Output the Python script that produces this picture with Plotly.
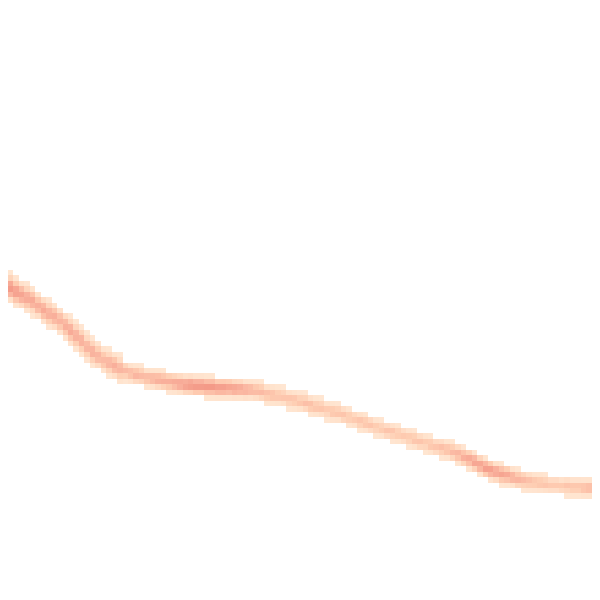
import numpy as np
import plotly.graph_objects as go

# Grid of the density image (cells per side)
n_cols = 110
n_rows = 110

# Centre line of the band (pixel-like y, top = 0), one value per column
center_y = [280, 284, 287, 290, 293, 298, 302, 306, 309, 313,
            318, 323, 328, 333, 339, 344, 348, 352, 355, 358,
            361, 363, 365, 367, 368, 370, 371, 372, 373, 374,
            375, 376, 377, 377, 378, 378, 379, 379, 380, 380,
            380, 381, 381, 382, 382, 383, 384, 386, 387, 388,
            389, 391, 392, 394, 395, 397, 399, 400, 402, 404,
            405, 407, 409, 411, 413, 415, 417, 419, 421, 423,
            424, 426, 428, 430, 432, 434, 435, 437, 439, 440,
            442, 444, 446, 449, 451, 454, 457, 460, 462, 464,
            466, 467, 469, 471, 472, 473, 474, 475, 476, 477,
            477, 478, 478, 479, 479, 480, 480, 481, 482, 483]

# Peak density per column
peak = [1.0, 0.95, 0.9, 0.85, 0.85, 0.8, 0.85, 0.8, 0.8, 0.75,
        0.8, 0.85, 0.8, 0.8, 0.75, 0.8, 0.75, 0.7, 0.75, 0.8,
        0.75, 0.7, 0.7, 0.75, 0.7, 0.7, 0.75, 0.8, 0.8, 0.8,
        0.85, 0.9, 0.95, 1.0, 1.0, 1.0, 1.0, 1.0, 0.95, 0.95,
        0.9, 0.9, 0.85, 0.8, 0.75, 0.7, 0.7, 0.65, 0.65, 0.6,
        0.6, 0.6, 0.6, 0.6, 0.65, 0.65, 0.6, 0.6, 0.55, 0.6,
        0.6, 0.6, 0.55, 0.55, 0.6, 0.6, 0.6, 0.55, 0.55, 0.6,
        0.6, 0.55, 0.55, 0.55, 0.6, 0.6, 0.55, 0.6, 0.6, 0.65,
        0.65, 0.7, 0.75, 0.8, 0.85, 0.9, 0.9, 0.95, 0.95, 0.9,
        0.9, 0.85, 0.8, 0.75, 0.7, 0.65, 0.6, 0.6, 0.6, 0.55,
        0.55, 0.55, 0.6, 0.6, 0.6, 0.65, 0.7, 0.7, 0.7, 0.7]

# Band spread (pixel-like units) per column
spread = [8] * 21 + [6] * 89

W = 600.0
cw = W / n_cols
rh = W / n_rows
xs = [(i + 0.5) * cw for i in range(n_cols)]
ys = [(j + 0.5) * rh for j in range(n_rows)]

c = np.array(center_y, dtype=float)
p = np.array(peak, dtype=float)
s = np.array(spread, dtype=float)
Y = np.array(ys)[:, None]
z = p[None, :] * np.exp(-0.5 * ((Y - c[None, :]) / s[None, :]) ** 2)
z = np.where(z < 0.14, np.nan, z)

colorscale = [
    [0.0, "#FFE6D2"],
    [0.2, "#FFE2CC"],
    [0.45, "#FECDB2"],
    [0.7, "#FAB5A0"],
    [1.0, "#F49A88"],
]

fig = go.Figure(go.Heatmap(
    x=xs, y=ys, z=z,
    zmin=0.14, zmax=1.0,
    colorscale=colorscale,
    showscale=False,
    hoverinfo="skip",
))

fig.update_layout(
    width=600, height=600,
    margin=dict(l=0, r=0, t=0, b=0),
    paper_bgcolor="white", plot_bgcolor="white",
    xaxis=dict(range=[0, W], visible=False, showgrid=False, zeroline=False),
    yaxis=dict(range=[W, 0], visible=False, showgrid=False, zeroline=False),
)

fig.write_html("out.html")
